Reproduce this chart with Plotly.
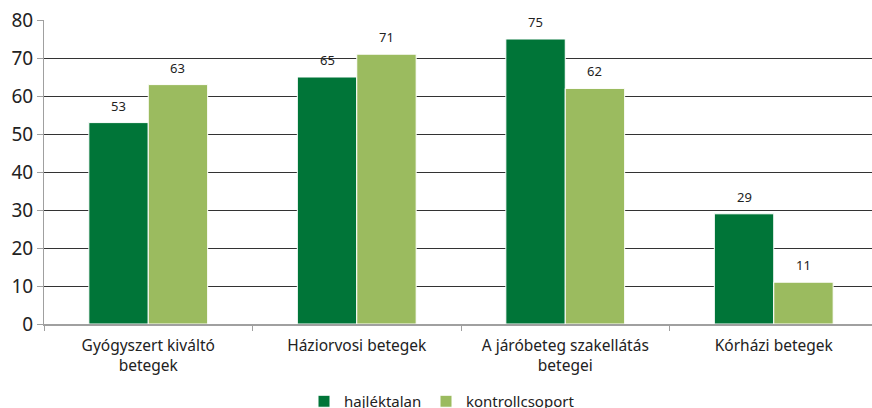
import plotly.graph_objects as go

categories = ["Gyógyszert kiváltó<br>betegek", "Háziorvosi betegek", "A járóbeteg szakellátás<br>betegei", "Kórházi betegek"]
hajlektalan = [53, 65, 75, 29]
kontroll = [63, 71, 62, 11]
series_names = ["hajléktalan", "kontrollcsoport"]

font_family = "Noto Sans, Open Sans, sans-serif"
W, H = 878, 408
L, R, T, B = 44, 0, 20, 84
bargap = 0.43
plot_w = W - L - R
plot_h = H - T - B
bar_px = plot_w / len(categories) * (1 - bargap) / 2

fig = go.Figure()
fig.add_trace(go.Bar(x=categories, y=hajlektalan, name=series_names[0], legend="legend",
                     marker=dict(color="#007538", line=dict(color="white", width=1))))
fig.add_trace(go.Bar(x=categories, y=kontroll, name=series_names[1], legend="legend2",
                     marker=dict(color="#9bbb5f", line=dict(color="white", width=1))))

for vals, sh in ((hajlektalan, -bar_px / 2), (kontroll, bar_px / 2)):
    for c, v in zip(categories, vals):
        fig.add_annotation(x=c, y=v, xref="x", yref="y", text=str(v), showarrow=False,
                           xshift=sh, yshift=6, yanchor="bottom",
                           font=dict(size=13, color="#222", family=font_family))

legend_common = dict(orientation="h", xanchor="left", y=-(B + 10) / plot_h, yanchor="bottom",
                     font=dict(size=15, color="#222"), itemwidth=30,
                     bgcolor="rgba(0,0,0,0)")
fig.update_layout(
    width=W, height=H,
    margin=dict(l=L, r=R, t=T, b=B, autoexpand=False),
    paper_bgcolor="white", plot_bgcolor="white",
    barmode="group", bargap=bargap, bargroupgap=0,
    font=dict(family=font_family, color="#222"),
    showlegend=True,
    legend=dict(x=(304 - L) / plot_w, **legend_common),
    legend2=dict(x=(426 - L) / plot_w, **legend_common),
    xaxis=dict(showline=True, linecolor="#a0a0a0", linewidth=2, ticks="outside",
               tickson="boundaries", ticklen=5, tickcolor="#a0a0a0", automargin=False,
               ticklabelstandoff=6,
               tickfont=dict(size=15.5, color="#222"), showgrid=False),
    yaxis=dict(range=[0, 80], dtick=10, showline=True, linecolor="#a0a0a0", linewidth=1,
               ticks="outside", ticklen=6, tickcolor="#a0a0a0", automargin=False,
               gridcolor="#333", gridwidth=1, zeroline=False,
               tickfont=dict(size=19, color="#222")),
)
fig.write_html("out.html", config={"displayModeBar": False},
               post_script="document.body.style.margin='0';document.body.style.overflow='hidden';")
